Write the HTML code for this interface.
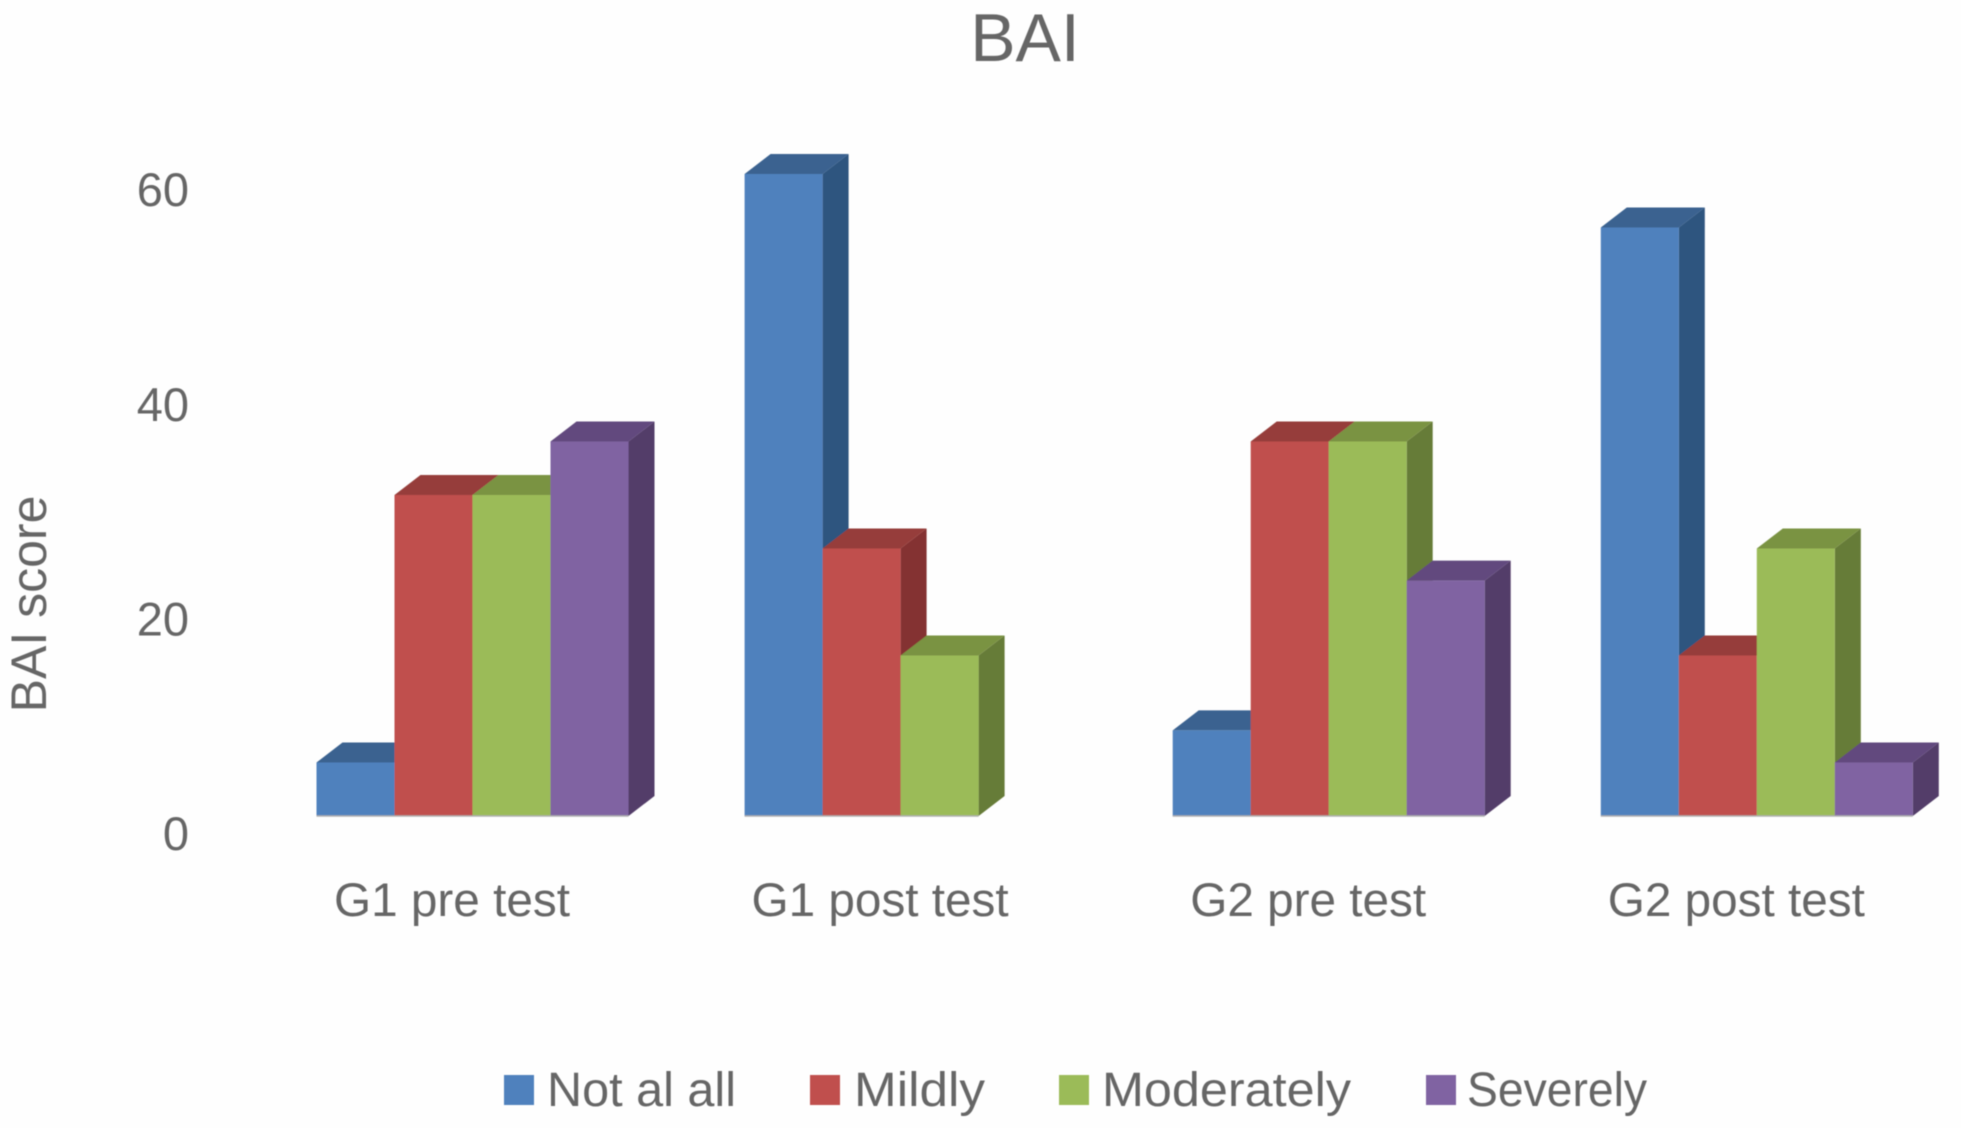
<!DOCTYPE html>
<html lang="en">
<head>
<meta charset="utf-8">
<title>BAI</title>
<style>
html,body{margin:0;padding:0;background:#fff;width:1961px;height:1128px;overflow:hidden}
svg{display:block}
text{font-family:"Liberation Sans",sans-serif;fill:#666}
</style>
</head>
<body>
<svg id="chart" xmlns="http://www.w3.org/2000/svg" width="1961" height="1128" viewBox="0 0 1961 1128">
  <defs>
    <filter id="soften" x="-5%" y="-5%" width="110%" height="110%"><feGaussianBlur stdDeviation="0.6"/></filter>
  </defs>
  <rect x="0" y="0" width="1961" height="1128" fill="#fefefe"/>
  <g filter="url(#soften)">
  <text x="1025" y="61" font-size="68" text-anchor="middle">BAI</text>
  <text transform="translate(46,604) rotate(-90)" font-size="50" text-anchor="middle">BAI score</text>
  <g id="y-axis"></g>
  <g id="x-axis"></g>
  <g id="bars"></g>
  <g>
    <g>
      <rect x="504" y="1075" width="30" height="30" fill="#4f81bd"/>
      <text x="547" y="1106" font-size="48" textLength="189" lengthAdjust="spacingAndGlyphs">Not al all</text>
    </g>
    <g>
      <rect x="810" y="1075" width="30" height="30" fill="#c0504d"/>
      <text x="854" y="1106" font-size="48" textLength="131" lengthAdjust="spacingAndGlyphs">Mildly</text>
    </g>
    <g>
      <rect x="1059" y="1075" width="30" height="30" fill="#9bbb59"/>
      <text x="1102" y="1106" font-size="48" textLength="249" lengthAdjust="spacingAndGlyphs">Moderately</text>
    </g>
    <g>
      <rect x="1426" y="1075" width="30" height="30" fill="#8064a2"/>
      <text x="1467" y="1106" font-size="48" textLength="180" lengthAdjust="spacingAndGlyphs">Severely</text>
    </g>
  </g>
  </g>
</svg>
<script>
var categories = ['G1 pre test', 'G1 post test', 'G2 pre test', 'G2 post test'];
var tickValues = [0, 20, 40, 60];
var notAtAll = [5, 60, 8, 55];
var mildly = [30, 25, 35, 15];
var moderately = [30, 15, 35, 25];
var severely = [35, 0, 22, 5];

var SVG_NS = 'http://www.w3.org/2000/svg';
var seriesList = [
  { key: 'not-al-all', values: notAtAll, front: '#4f81bd', side: '#2f547f', top: '#3a6290' },
  { key: 'mildly', values: mildly, front: '#c0504d', side: '#843230', top: '#963c3a' },
  { key: 'moderately', values: moderately, front: '#9bbb59', side: '#667b39', top: '#7a9343' },
  { key: 'severely', values: severely, front: '#8064a2', side: '#533d69', top: '#624a7e' }
];
var BASE_Y = 816, UNIT = 10.7, GROUP_X0 = 316.5, GROUP_STEP = 428.1;
var BAR_W = 78, DEPTH_X = 26, DEPTH_Y = 20;
var TICK_BASE_Y = 850, TICK_UNIT = 10.73;

function xGroup(i) { return GROUP_X0 + i * GROUP_STEP; }
function yValue(v) { return BASE_Y - v * UNIT; }
function yTick(v) { return TICK_BASE_Y - v * TICK_UNIT; }

function make(tag, attrs, parent) {
  var el = document.createElementNS(SVG_NS, tag);
  for (var k in attrs) el.setAttribute(k, attrs[k]);
  parent.appendChild(el);
  return el;
}

var yAxis = document.getElementById('y-axis');
tickValues.forEach(function (t) {
  var label = make('text', { x: 189, y: yTick(t), 'font-size': 47, 'text-anchor': 'end' }, yAxis);
  
  
  label.textContent = String(t);
});

var xAxis = document.getElementById('x-axis');
categories.forEach(function (c, i) {
  var label = make('text', { x: xGroup(i) + 2 * BAR_W - 20.5, y: 916, 'font-size': 47.7, 'text-anchor': 'middle' }, xAxis);
  
  
  label.textContent = c;
});

var barsLayer = document.getElementById('bars');
categories.forEach(function (c, i) {
  seriesList.forEach(function (s, j) {
    var v = s.values[i];
    if (!(v > 0)) return;
    var x = xGroup(i) + j * BAR_W;
    var y = yValue(v);
    var bar = make('g', {}, barsLayer);
    
    
    var side = make('polygon', {
      points: [x + BAR_W, y, x + BAR_W + DEPTH_X, y - DEPTH_Y, x + BAR_W + DEPTH_X, BASE_Y - DEPTH_Y, x + BAR_W, BASE_Y].join(' '),
      fill: s.side
    }, bar);
    
    
    var top = make('polygon', {
      points: [x, y, x + DEPTH_X, y - DEPTH_Y, x + BAR_W + DEPTH_X, y - DEPTH_Y, x + BAR_W, y].join(' '),
      fill: s.top
    }, bar);
    
    
    var front = make('rect', { x: x, y: y, width: BAR_W, height: BASE_Y - y, fill: s.front }, bar);
    
    
    var edge = make('line', { x1: x, y1: BASE_Y, x2: x + BAR_W, y2: BASE_Y, stroke: '#b0b0b0', 'stroke-width': 1.5 }, bar);
    
    
  });
});
</script>
</body>
</html>
